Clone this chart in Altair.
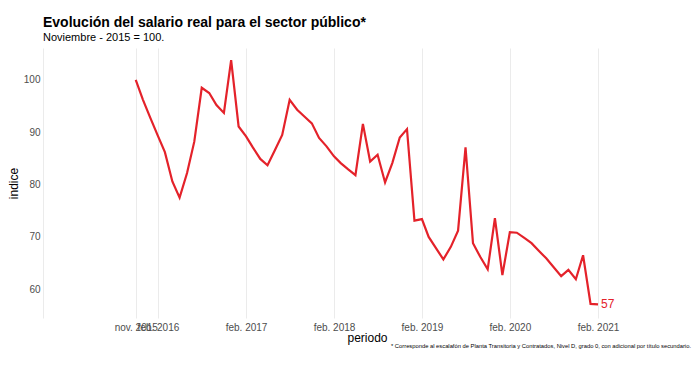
import altair as alt
import pandas as pd

# Data (monthly index, Nov 2015 = 100)
fechas = pd.date_range("2015-11-01", periods=64, freq="MS").strftime("%Y-%m-%d").tolist()
indice = [
    100.0, 96.2, 92.7, 89.3, 86.2, 80.6, 77.5, 82.2, 88.2, 98.5,
    97.5, 95.2, 93.7, 103.8, 91.1, 89.2, 87.1, 84.9, 83.7, 86.6,
    89.5, 96.2, 94.3, 93.0, 91.7, 88.9, 87.3, 85.4, 84.1, 82.9,
    81.8, 91.6, 84.4, 85.7, 80.4, 84.1, 89.0, 90.6, 73.1, 73.4,
    70.0, 67.8, 65.7, 68.1, 71.2, 87.1, 68.8, 66.2, 63.8, 73.6,
    62.7, 70.9, 70.8, 69.8, 68.8, 67.3, 65.9, 64.2, 62.5, 63.7,
    61.9, 66.5, 57.2, 57.1,
]
y_ticks = [60, 70, 80, 90, 100]
x_ticks = [(2014, 10, 12), (2015, 11, 1), (2016, 2, 1), (2017, 2, 1), (2018, 2, 1),
           (2019, 2, 1), (2020, 2, 1), (2021, 2, 1)]
titulo = "Evolución del salario real para el sector público*"
subtitulo = "Noviembre - 2015 = 100."
nota = "* Corresponde al escalafón de Planta Transitoria y Contratados, Nivel D, grado 0, con adicional por título secundario."

df = pd.DataFrame({"periodo": fechas, "indice": indice})
last = df.tail(1)

RED = "#E4222A"
FONT = "Liberation Sans"

x_enc = alt.X(
    "periodo:T",
    title="periodo",
    scale=alt.Scale(
        type="utc",
        domain=[alt.DateTime(year=2014, month=10, date=12, utc=True),
                alt.DateTime(year=2022, month=2, date=22, utc=True)],
        nice=False,
    ),
    axis=alt.Axis(
        values=[alt.DateTime(year=a, month=m, date=d, utc=True) for a, m, d in x_ticks],
        labelExpr="utcmonth(datum.value)==10 ? 'nov. ' + utcyear(datum.value) : (utcmonth(datum.value)==1 ? 'feb. ' + utcyear(datum.value) : '')",
        grid=True, gridColor="#EBEBEB", gridWidth=1,
        ticks=False, domain=False,
        labelOverlap=False, labelFlush=False,
        labelFontSize=10, labelColor="#4D4D4D", labelPadding=4,
        titleFontSize=12, titleFontWeight="normal", titleColor="#000000", titlePadding=0,
    ),
)
y_enc = alt.Y(
    "indice:Q",
    title="indice",
    scale=alt.Scale(domain=[54.5, 106.1], nice=False, zero=False),
    axis=alt.Axis(
        values=y_ticks, grid=False, ticks=False, domain=False,
        labelFontSize=10, labelColor="#4D4D4D", labelPadding=3,
        titleFontSize=12, titleFontWeight="normal", titleColor="#000000", titlePadding=3,
    ),
)

line = alt.Chart(df).mark_line(color=RED, strokeWidth=2.2).encode(x=x_enc, y=y_enc)

label = alt.Chart(last).mark_text(
    color=RED, align="left", baseline="middle", dx=3, fontSize=12, font=FONT
).encode(
    x="periodo:T", y="indice:Q", text=alt.Text("indice:Q", format=".0f")
)

foot = alt.Chart(pd.DataFrame({"nota": [nota]})).mark_text(
    align="right", baseline="alphabetic", fontSize=5.8, color="#000000", font=FONT
).encode(text="nota:N", x=alt.value(648), y=alt.value(300))

chart = alt.layer(line, label, foot).properties(
    width=648,
    height=270,
    autosize=alt.AutoSizeParams(type="none"),
    padding={"left": 43, "top": 48, "right": 8, "bottom": 59},
    title=alt.TitleParams(
        text=titulo, subtitle=subtitulo, anchor="start", frame="group",
        font=FONT, fontSize=14, fontWeight="bold", color="#000000",
        subtitleFont=FONT, subtitleFontSize=11, subtitleColor="#000000",
        subtitlePadding=2, offset=5,
    ),
).configure(font=FONT, background="white").configure_view(stroke=None)

chart.save("out.html", embed_options={"renderer": "svg", "actions": False})
